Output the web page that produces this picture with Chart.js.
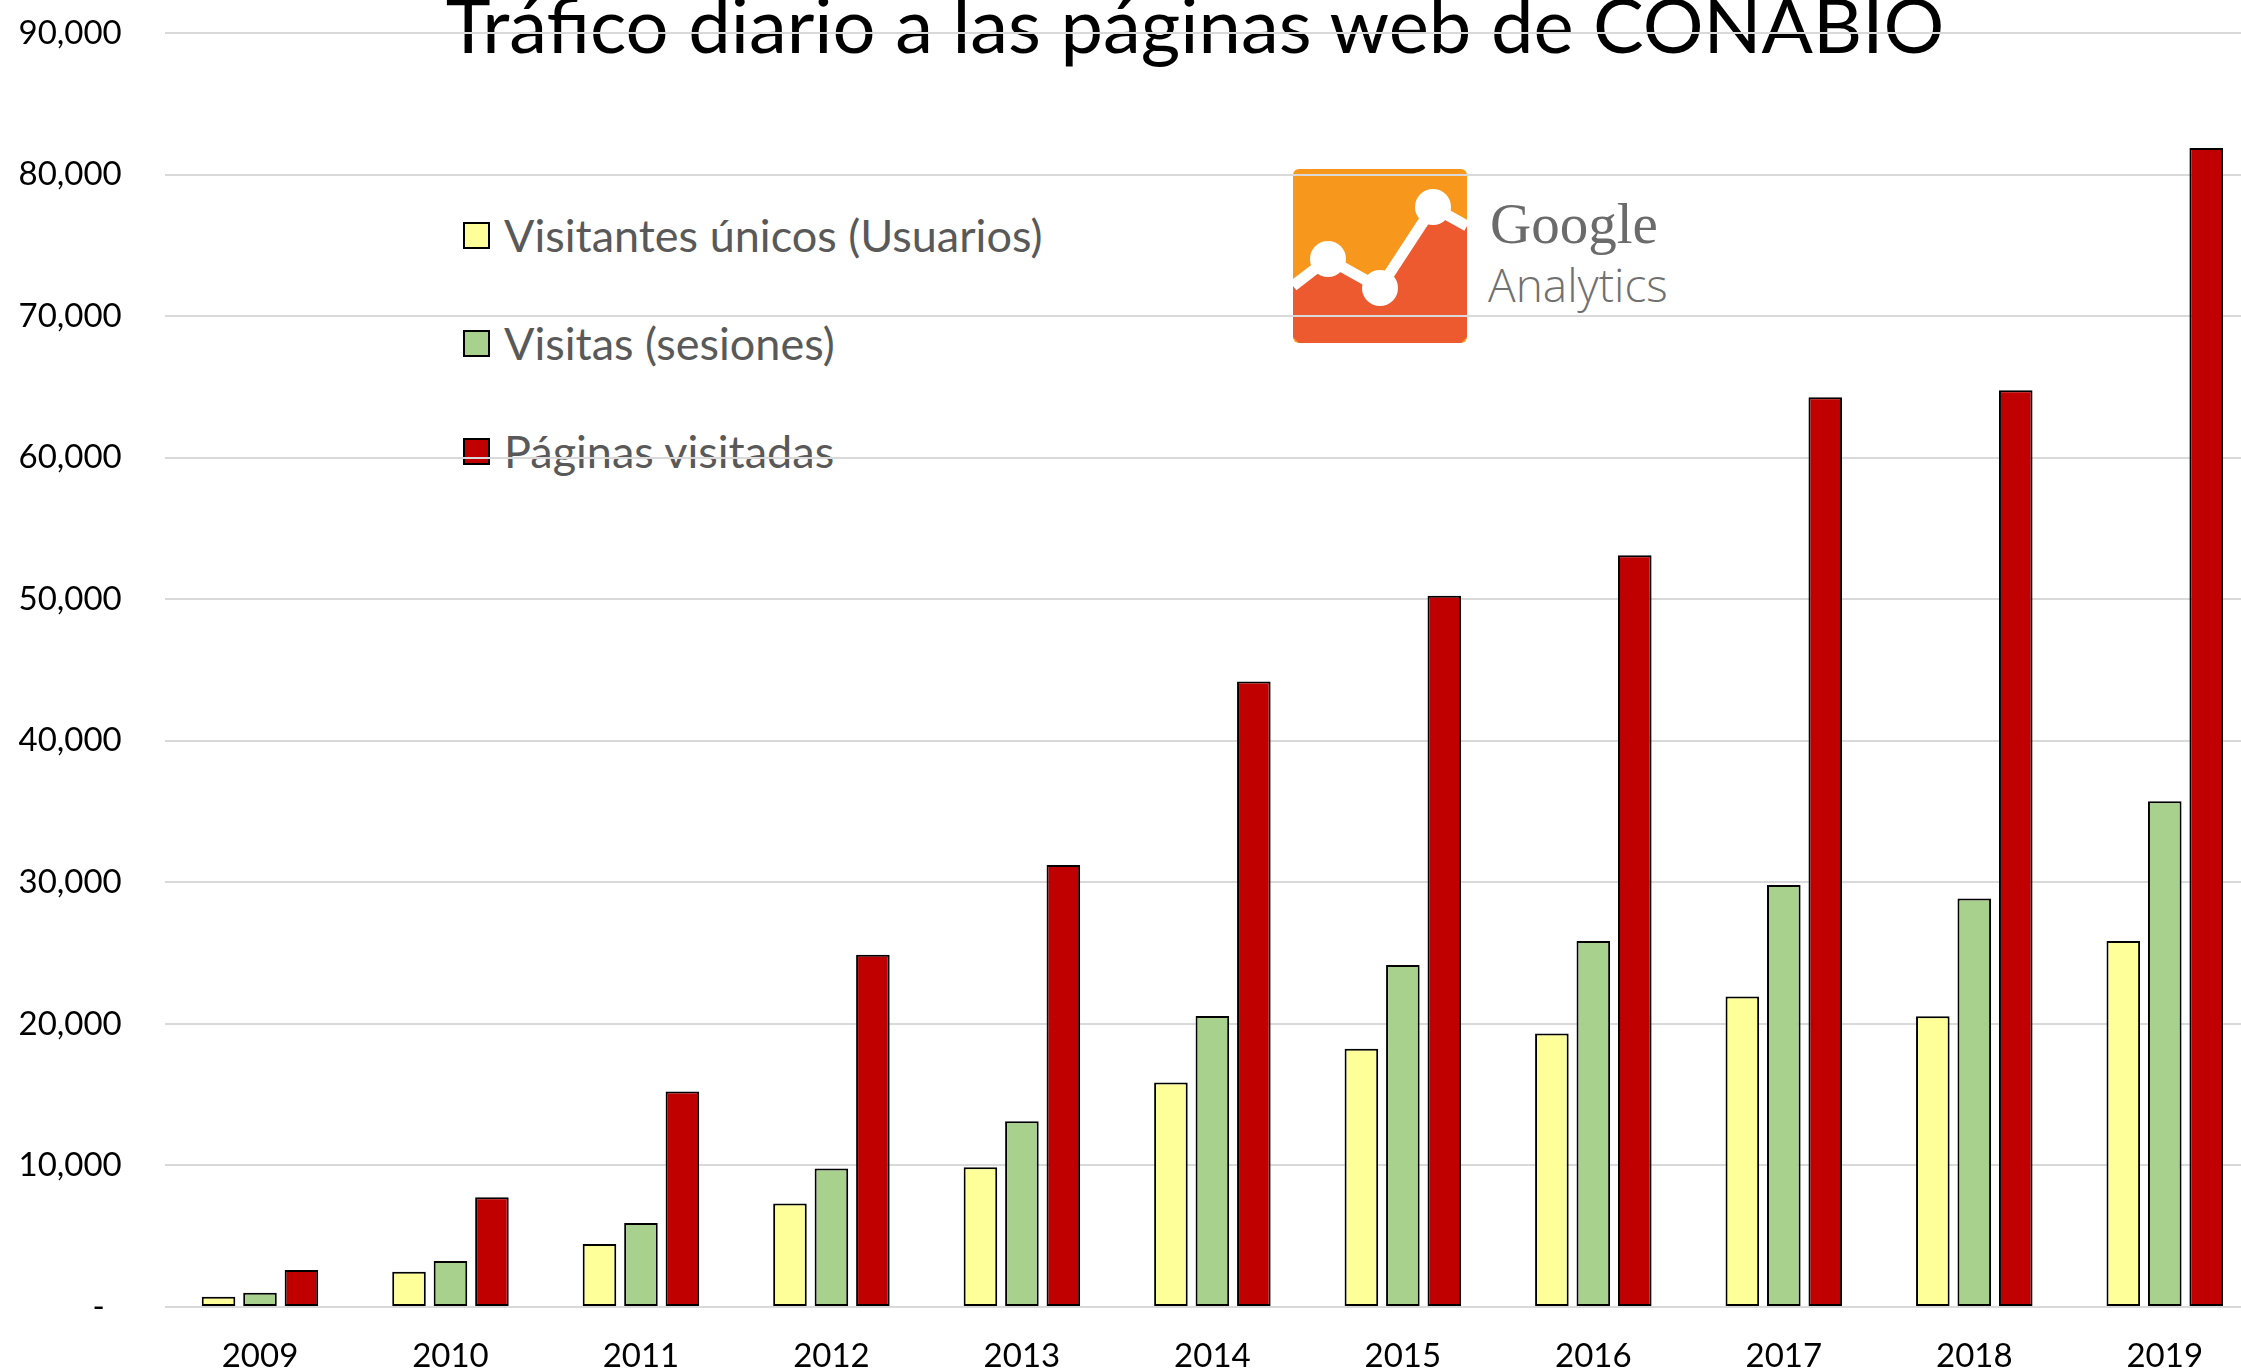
<!DOCTYPE html>
<html lang="es">
<head>
<meta charset="utf-8">
<title>Tráfico diario a las páginas web de CONABIO</title>
<script src="https://cdn.jsdelivr.net/npm/chart.js@4.4.1/dist/chart.umd.min.js"></script>
<style>
    html, body { margin: 0; padding: 0; background: #fff; overflow: hidden; }
    #lienzo { position: relative; width: 2241px; height: 1370px; overflow: hidden; }
    #titulo { position: absolute; left: 1195px; top: -14px; transform: translateX(-50%); margin: 0;
              font-family: Lato, sans-serif; font-weight: normal; font-size: 76px; line-height: 76px; color: #000; white-space: nowrap; }
    #logo { position: absolute; left: 1293px; top: 169px; }
    #leyenda { position: absolute; left: 463px; top: 0; font-family: Lato, sans-serif; color: #595959; font-size: 45px; }
    .item { position: absolute; left: 0; height: 54px; display: flex; align-items: center; white-space: nowrap; }
    .caja { width: 23px; height: 23px; border: 2px solid #000; margin-right: 14px; flex: none; }
    #grafica { position: absolute; left: 0; top: 0; }
</style>
</head>
<body>
<div id="lienzo">
    <h1 id="titulo"></h1>
    <svg id="logo" width="400" height="180" viewBox="0 0 400 180">
        <rect x="0" y="0" width="174" height="174" rx="6" fill="#F7981D"/>
        <polygon points="0,117 35,90 87,119 140,38 174,57 174,168 168,174 6,174 0,168" fill="#EE5A30"/>
        <polyline points="0,117 35,90 87,119 140,38 174,57" fill="none" stroke="#fff" stroke-width="11" stroke-linejoin="round"/>
        <circle cx="35" cy="90" r="18" fill="#fff"/>
        <circle cx="87" cy="119" r="18" fill="#fff"/>
        <circle cx="140" cy="38" r="18" fill="#fff"/>
        <text x="197" y="74" font-family="Liberation Serif, serif" font-size="57" fill="#6b6b6b">Google</text>
        <text x="195" y="133" font-family="Open Sans, sans-serif" font-weight="300" font-size="46" fill="#707070">Analytics</text>
    </svg>
    <div id="leyenda"></div>
    <canvas id="grafica" width="2260" height="1370"></canvas>
</div>
<script>
// datos
const titulo = 'Tráfico diario a las páginas web de CONABIO';
const anios = ['2009', '2010', '2011', '2012', '2013', '2014', '2015', '2016', '2017', '2018', '2019'];
const usuarios = [730, 2490, 4450, 7320, 9880, 15860, 18240, 19320, 21930, 20540, 25860];
const sesiones = [1010, 3250, 5930, 9790, 13130, 20560, 24160, 25860, 29810, 28850, 35720];
const paginas = [2610, 7760, 15220, 24890, 31220, 44190, 50250, 53100, 64260, 64770, 81880];
const nombresSeries = ['Visitantes únicos (Usuarios)', 'Visitas (sesiones)', 'Páginas visitadas'];
const coloresSeries = ['#FFFF99', '#A9D18E', '#C00000'];
const ejeYMax = 90000;
const ejeYPaso = 10000;

document.addEventListener("DOMContentLoaded", function () {

    Chart.defaults.font.family = 'Lato, sans-serif';
    document.getElementById('titulo').textContent = titulo;

    var valores = [usuarios, sesiones, paginas];
    var datasets = nombresSeries.map(function (nombre, i) {
        return {
            label: nombre,
            data: valores[i],
            backgroundColor: coloresSeries[i],
            borderColor: '#000',
            borderWidth: 2,
            borderSkipped: false,
            categoryPercentage: 0.653,
            barPercentage: 0.81
        };
    });

    // leyenda en html, dentro del area de la grafica
    var leyenda = document.getElementById('leyenda');
    var centros = [235, 343, 451];
    datasets.forEach(function (ds, i) {
        var item = document.createElement('div');
        item.className = 'item';
        item.style.top = (centros[i] - 27) + 'px';
        item.innerHTML = '<span class="caja" style="background:' + ds.backgroundColor + '"></span><span>' + ds.label + '</span>';
        leyenda.appendChild(item);
    });

    var ctx = document.getElementById('grafica');
    new Chart(ctx.getContext('2d'), {
        type: 'bar',
        data: { labels: anios, datasets: datasets },
        options: {
            responsive: false,
            animation: false,
            events: [],
            layout: { padding: { left: 0, right: 0, top: 33, bottom: 0 } },
            plugins: {
                legend: { display: false },
                tooltip: { enabled: false },
                title: { display: false }
            },
            scales: {
                x: {
                    grid: { display: false, drawTicks: false },
                    border: { display: false },
                    ticks: { color: '#000', font: { size: 33 }, padding: 30 },
                    afterFit: function (eje) { eje.height = 63; }
                },
                y: {
                    min: 0,
                    max: ejeYMax,
                    // marcas invisibles: solo separan las etiquetas de la rejilla
                    grid: { color: '#D9D9D9', lineWidth: 2, drawTicks: true, tickLength: 43, tickColor: 'rgba(0,0,0,0)' },
                    border: { display: false },
                    ticks: {
                        stepSize: ejeYPaso,
                        color: '#000',
                        font: { size: 33 },
                        padding: 0,
                        callback: function (v) { return v === 0 ? '-  ' : v.toLocaleString('en-US'); }
                    },
                    afterFit: function (eje) { eje.width = 164.75; }
                }
            }
        }
    });
});
</script>
</body>
</html>
